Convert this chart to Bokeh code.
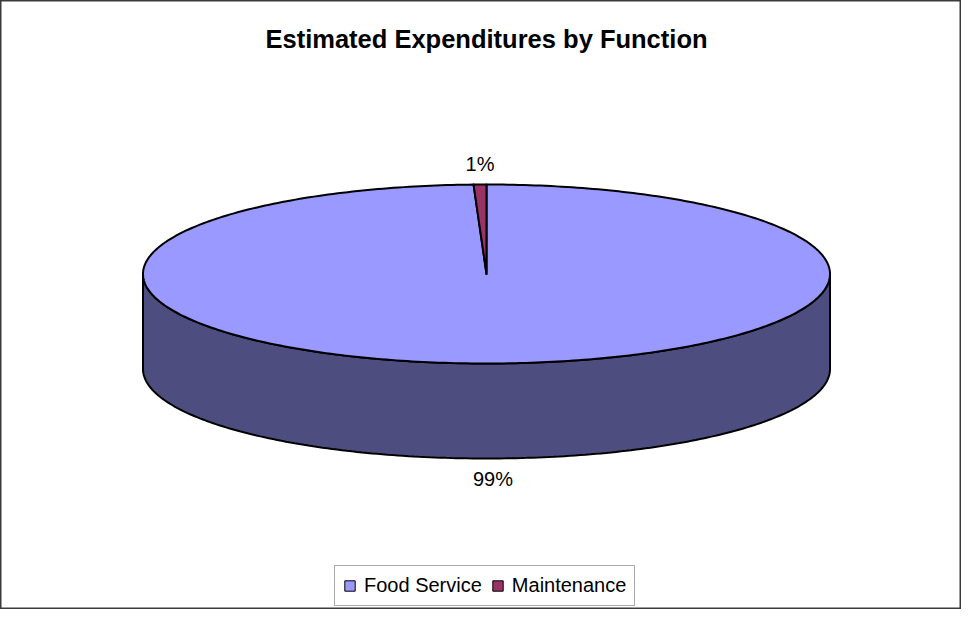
import numpy as np
from bokeh.plotting import figure
from bokeh.models import Range1d, Legend, LegendItem
from bokeh.core.properties import value
from bokeh.embed import file_html
from bokeh.resources import INLINE

# ---- data ----
title_text = "Estimated Expenditures by Function"
categories = ["Food Service", "Maintenance"]
shares = [99.4, 0.6]
top_colors = ["#9999FF", "#993366"]
side_colors = ["#4D4D80", "#4D1A33"]

# ---- layout (pixel-space geometry) ----
W, H = 961, 609
cx, cy = 486.0, 273.5
a, b = 343.5, 89.5
depth = 95.0
FONT = "Liberation Sans"

p = figure(width=W, height=H, output_backend="svg", toolbar_location=None,
           x_range=Range1d(0, W), y_range=Range1d(H, 0),
           min_border=0, background_fill_color="white",
           outline_line_color="#3a3a3a", outline_line_width=2)
p.axis.visible = False
p.grid.visible = False

total = float(sum(shares))
fracs = [s / total for s in shares]
bounds = np.concatenate([[0.0], np.cumsum(fracs)]) * 2 * np.pi  # clockwise from 12 o'clock


def ex(phi):
    return cx + a * np.sin(phi)


def ey(phi, dz=0.0):
    return cy - b * np.cos(phi) + dz


# side walls (visible front half: phi in [pi/2, 3pi/2])
for i in range(len(categories)):
    lo = max(bounds[i], np.pi / 2)
    hi = min(bounds[i + 1], 3 * np.pi / 2)
    if hi > lo:
        ph = np.linspace(lo, hi, 200)
        xs = np.concatenate([ex(ph), ex(ph[::-1])])
        ys = np.concatenate([ey(ph), ey(ph[::-1], depth)])
        p.patch(xs, ys, fill_color=side_colors[i], line_color="black", line_width=2)

# top wedges
for i in range(len(categories)):
    n = max(int(400 * fracs[i]), 6)
    ph = np.linspace(bounds[i], bounds[i + 1], n)
    xs = np.concatenate([[cx], ex(ph), [cx]])
    ys = np.concatenate([[cy], ey(ph), [cy]])
    p.patch(xs, ys, fill_color=top_colors[i], line_color="black", line_width=2,
            line_join="round")

# percentage labels
lx, ly, lt = [], [], []
for i in range(len(categories)):
    mid = (bounds[i] + bounds[i + 1]) / 2
    front = np.cos(mid) < 0
    off = 21.0
    lx.append(cx + a * np.sin(mid))
    yy = cy - (b + off) * np.cos(mid) + (depth if front else 0)
    ly.append(yy)
    lt.append(f"{round(shares[i] / total * 100):.0f}%")
p.text(x=lx, y=ly, text=lt, text_align="center", text_baseline="middle",
       text_font=value(FONT), text_font_size="20px", text_color="black")

# title
p.text(x=[cx], y=[38], text=[title_text], text_align="center", text_baseline="middle",
       text_font=value(FONT), text_font_size="25.5px", text_font_style="bold",
       text_color="black")

# legend (dummy area glyphs outside the visible range supply the swatches)
items = []
for i, c in enumerate(categories):
    r = p.quad(left=[-1000], right=[-999], top=[-1000], bottom=[-999],
               fill_color=top_colors[i], line_color="black", line_width=1)
    items.append(LegendItem(label=c, renderers=[r]))
leg = Legend(items=items, orientation="horizontal", location=(334, 3),
             label_text_font=FONT, label_text_font_size="20px", label_height=20,
             label_text_color="black",
             glyph_width=13, glyph_height=13, label_standoff=8, spacing=9,
             padding=8, margin=0, border_line_color="#555555", border_line_width=1,
             background_fill_alpha=1.0)
p.add_layout(leg, "center")

open("out.html", "w").write(file_html(p, INLINE))
